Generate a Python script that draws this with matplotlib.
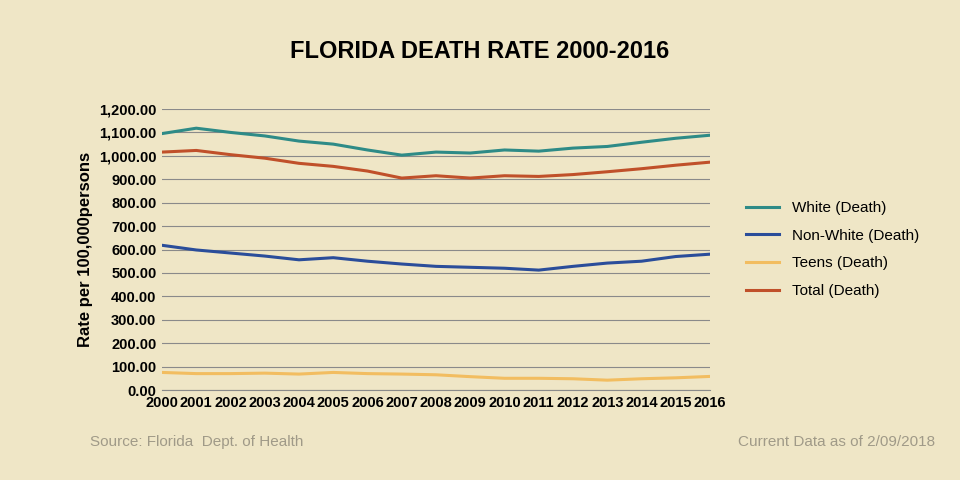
import numpy as np
import matplotlib
matplotlib.use("Agg")
import matplotlib.pyplot as plt
from matplotlib import font_manager

names = {f.name for f in font_manager.fontManager.ttflist}
NARROW = "Liberation Sans Narrow" if "Liberation Sans Narrow" in names else "Liberation Sans"
plt.rcParams['font.family'] = [NARROW, "DejaVu Sans"]

years = list(range(2000, 2017))
white = [1095, 1118, 1100, 1085, 1063, 1050, 1025, 1003, 1016, 1012, 1025, 1020, 1033, 1040, 1058, 1075, 1088]
nonwhite = [618, 598, 585, 572, 556, 565, 550, 538, 528, 524, 520, 512, 528, 542, 550, 570, 580]
teens = [75, 70, 70, 72, 68, 75, 70, 68, 65, 57, 50, 50, 48, 42, 48, 52, 58]
total = [1016, 1023, 1005, 990, 968, 955, 935, 905, 915, 905, 915, 912, 920, 932, 945, 960, 973]

BG = "#efe6c6"
fig = plt.figure(figsize=(9.6, 4.8), dpi=100, facecolor=BG)
ax = fig.add_axes([162/960, 1-390/480, (710-162)/960, (390-109)/480], facecolor=BG)

ax.plot(years, white, color="#2e8b87", lw=2.2, label="White (Death)")
ax.plot(years, nonwhite, color="#2a4d9a", lw=2.2, label="Non-White (Death)")
ax.plot(years, teens, color="#f2bd60", lw=2.2, label="Teens (Death)")
ax.plot(years, total, color="#c0502a", lw=2.2, label="Total (Death)")

ax.set_xlim(2000, 2016)
ax.set_ylim(0, 1200)
ax.set_xticks(years)
ax.set_xticklabels([str(y) for y in years], fontsize=10.5, fontweight='bold')
ax.set_yticks(np.arange(0, 1201, 100))
ax.set_yticklabels([f"{v:,.2f}" for v in np.arange(0, 1201, 100)], fontsize=10.5, fontweight='bold')
ax.grid(axis='y', color="#8a8a8a", lw=0.8)
for s in ['top', 'right', 'left']:
    ax.spines[s].set_visible(False)
ax.spines['bottom'].set_color("#8a8a8a")
ax.tick_params(length=0, pad=4)
ax.set_ylabel("Rate per 100,000persons", fontsize=12, fontweight='bold')

ax.legend(loc='center left', bbox_to_anchor=(1.04, 0.5), frameon=False, fontsize=11,
          labelspacing=0.9, handlelength=2.2)

fig.text(0.5, 1-52/480, "FLORIDA DEATH RATE 2000-2016", ha='center', va='center',
         fontsize=17, fontweight='bold')
fig.text(90/960, 1-442/480, "Source: Florida  Dept. of Health", fontsize=11, color="#a09a88", va='center')
fig.text(935/960, 1-442/480, "Current Data as of 2/09/2018", fontsize=11, color="#a09a88", va='center', ha='right')

fig.savefig("out.png", dpi=100, facecolor=BG)
